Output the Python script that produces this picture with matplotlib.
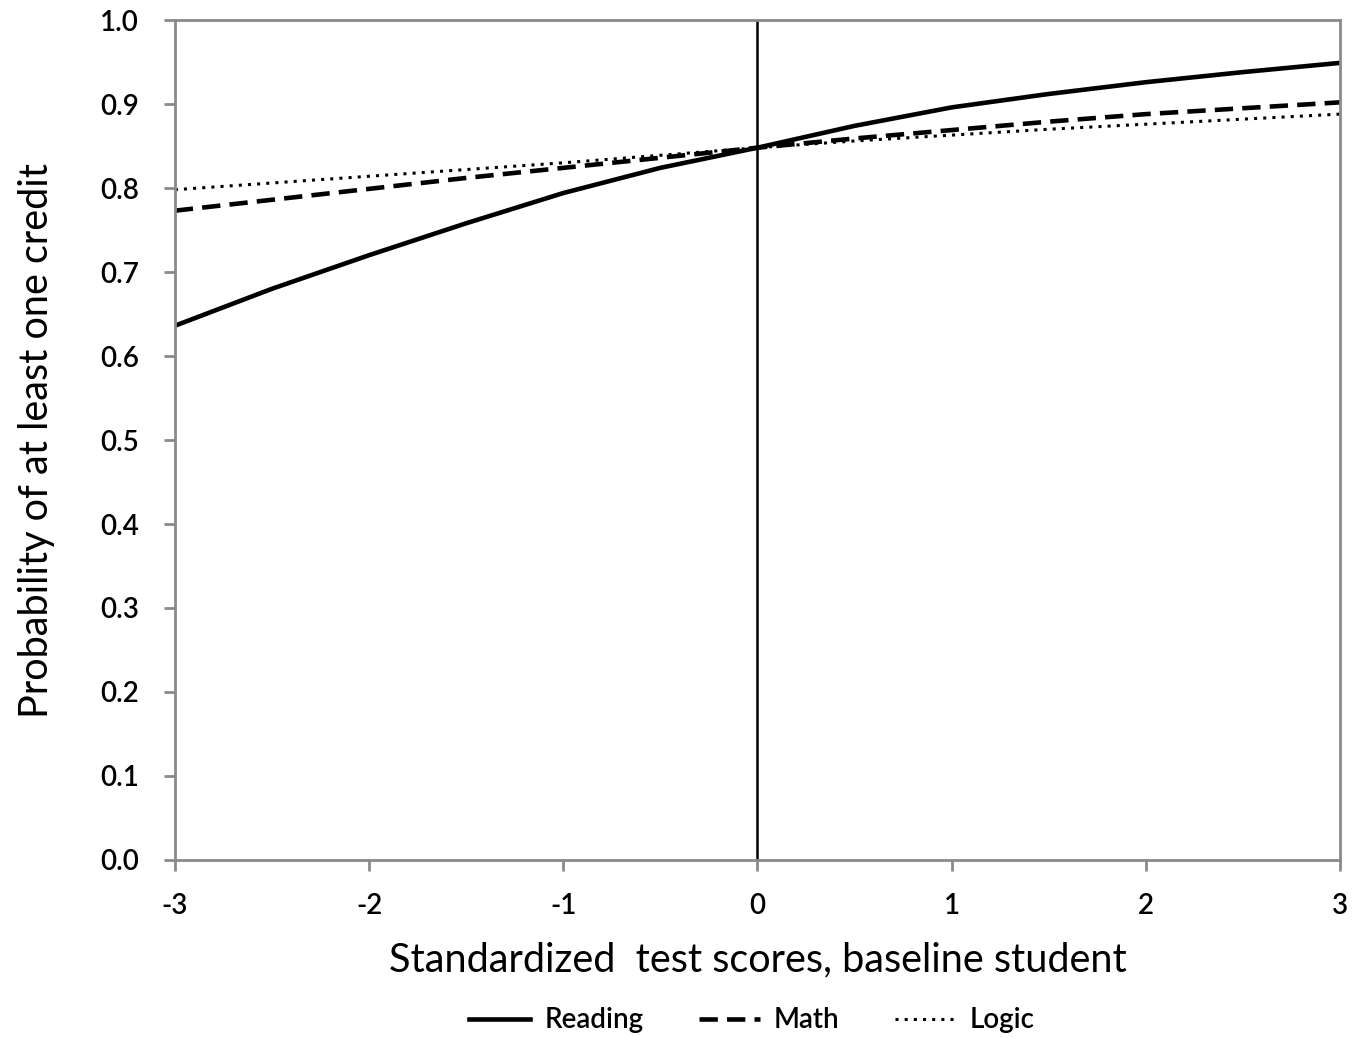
import matplotlib.pyplot as plt
from matplotlib.lines import Line2D

plt.rcParams['font.family'] = ['Lato', 'DejaVu Sans']
plt.rcParams['axes.unicode_minus'] = False

scores = [-3, -2.5, -2, -1.5, -1, -0.5, 0, 0.5, 1, 1.5, 2, 2.5, 3]
reading = [0.636, 0.680, 0.720, 0.758, 0.794, 0.824, 0.848, 0.874, 0.896, 0.912, 0.926, 0.938, 0.949]
math = [0.773, 0.786, 0.799, 0.812, 0.824, 0.836, 0.848, 0.859, 0.869, 0.879, 0.888, 0.895, 0.902]
logic = [0.798, 0.806, 0.814, 0.822, 0.830, 0.839, 0.848, 0.856, 0.863, 0.870, 0.876, 0.882, 0.888]

fig = plt.figure(figsize=(13.55, 10.38), dpi=100)
ax = fig.add_axes([0.129, 0.1715, 0.86, 0.8092])

ax.plot(scores, reading, color='black', lw=3.3, ls='-', label='Reading')
ax.plot(scores, math, color='black', lw=3.3, ls=(0, (4, 2)), label='Math')
ax.plot(scores, logic, color='black', lw=2.2, ls=(0, (1, 2)), label='Logic')
ax.axvline(0, color='black', lw=1.8)

ax.set_xlim(-3, 3)
ax.set_ylim(0, 1)
ax.set_xticks(range(-3, 4))
ax.set_yticks([i / 10 for i in range(11)])
ax.set_yticklabels([f'{i / 10:.1f}' for i in range(11)])
for s in ax.spines.values():
    s.set_color('#8a8a8a')
    s.set_linewidth(2)
ax.tick_params(colors='#8a8a8a', labelcolor='black', labelsize=20, width=2, length=8)
ax.tick_params(axis='x', pad=16)
ax.tick_params(axis='y', pad=18)
for lbl in ax.get_xticklabels() + ax.get_yticklabels():
    lbl.set_fontweight('semibold')

ax.set_xlabel('Standardized  test scores, baseline student', fontsize=28.5, labelpad=16)
ax.set_ylabel('Probability of at least one credit', fontsize=28.5, labelpad=32)

handles = [Line2D([], [], color='black', lw=3.3, ls='-'),
           Line2D([], [], color='black', lw=3.3, ls=(0, (4, 2))),
           Line2D([], [], color='black', lw=2.2, ls=(0, (1, 2)))]
leg = fig.legend(handles, ['Reading', 'Math', 'Logic'], loc='center', bbox_to_anchor=(0.555, 0.017),
                 ncol=3, frameon=False, fontsize=20, handlelength=2.2, handletextpad=0.5,
                 columnspacing=2.0)
for t in leg.get_texts():
    t.set_fontweight('semibold')

fig.savefig('out.png', dpi=100)
